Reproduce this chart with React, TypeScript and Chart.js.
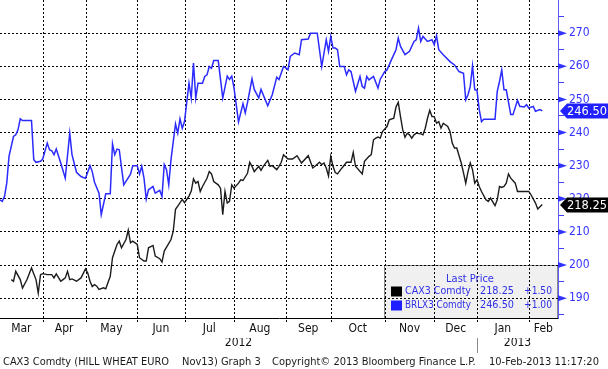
import React, { useEffect, useRef } from 'react';
import { Chart, registerables } from 'chart.js';

Chart.register(...registerables);

const FONT = "'DejaVu Sans Condensed', 'DejaVu Sans', sans-serif";

// x = trading session number (0 = first session shown, early March 2012)
const brlxSessions = [0, 1, 2, 3, 4, 6, 7, 8, 9, 10, 14, 15, 16, 18, 19, 21, 22, 23, 24, 25, 27, 29, 31, 32, 34, 36, 37, 38, 40, 41, 42, 44, 45, 47, 49, 50, 51, 52, 53, 55, 58, 59, 61, 62, 63, 64, 65, 66, 68, 69, 71, 72, 73, 74, 75, 76, 78, 79, 80, 81, 82, 84, 85, 86, 87, 88, 90, 91, 92, 93, 94, 95, 97, 99, 101, 102, 103, 104, 106, 108, 109, 110, 112, 113, 115, 116, 119, 121, 123, 124, 126, 127, 128, 129, 131, 133, 134, 137, 138, 141, 143, 145, 146, 147, 148, 149, 150, 151, 153, 154, 155, 156, 158, 160, 161, 162, 163, 164, 165, 166, 168, 169, 171, 172, 174, 176, 177, 178, 180, 182, 184, 185, 186, 187, 188, 190, 192, 193, 194, 195, 197, 200, 202, 204, 206, 207, 208, 209, 210, 211, 212, 213, 214, 215, 220, 221, 222, 223, 224, 225, 227, 228, 230, 231, 233, 234, 235, 237, 238, 240, 241];
const brlxValues = [219.7, 219.2, 220.7, 224.7, 232.8, 238.8, 239.3, 240.8, 244.1, 243.6, 243.6, 231.8, 231.0, 231.3, 232.0, 236.8, 234.8, 234.5, 233.3, 235.0, 230.8, 226.2, 239.8, 233.3, 228.0, 226.7, 226.4, 226.2, 230.0, 228.2, 225.0, 221.7, 215.2, 221.5, 221.5, 236.6, 233.3, 235.0, 234.8, 224.2, 227.4, 230.0, 230.0, 227.5, 229.8, 226.2, 219.9, 222.7, 223.7, 221.7, 222.5, 220.7, 230.3, 228.8, 224.2, 231.8, 242.6, 239.8, 244.1, 241.3, 243.3, 254.9, 250.4, 261.0, 250.4, 254.9, 254.9, 256.9, 257.4, 259.9, 259.4, 261.7, 261.7, 250.4, 257.0, 256.0, 257.0, 253.5, 243.2, 248.7, 245.9, 249.0, 256.2, 253.0, 250.4, 253.0, 248.1, 251.4, 256.7, 256.0, 259.9, 259.5, 258.9, 263.0, 264.0, 263.5, 268.0, 268.2, 270.0, 270.0, 259.9, 268.0, 264.5, 269.0, 265.5, 265.5, 265.0, 259.9, 259.9, 257.4, 258.9, 258.4, 252.4, 256.9, 253.9, 253.4, 256.9, 255.9, 256.4, 256.9, 253.4, 256.1, 258.4, 258.9, 262.0, 265.0, 268.5, 266.0, 263.5, 264.5, 267.5, 268.0, 271.5, 267.5, 269.0, 267.5, 268.0, 266.5, 269.2, 265.0, 263.5, 261.4, 260.4, 258.4, 257.9, 249.9, 251.4, 253.9, 260.1, 252.9, 252.7, 246.9, 243.3, 244.0, 244.0, 252.4, 255.4, 258.9, 252.9, 252.9, 245.4, 245.4, 249.7, 247.9, 247.7, 248.4, 247.4, 247.9, 246.4, 246.9, 246.5];

const caxSessions = [5, 6, 7, 9, 10, 12, 14, 16, 17, 18, 19, 21, 23, 24, 25, 27, 28, 29, 30, 31, 32, 34, 36, 38, 39, 40, 41, 42, 43, 44, 46, 47, 49, 50, 52, 53, 54, 56, 57, 58, 59, 61, 62, 64, 65, 66, 68, 69, 71, 72, 73, 76, 77, 78, 79, 81, 82, 84, 85, 86, 87, 88, 89, 90, 92, 93, 94, 95, 97, 98, 99, 100, 101, 102, 103, 104, 106, 107, 108, 110, 111, 112, 113, 115, 116, 117, 119, 120, 121, 123, 124, 125, 126, 128, 130, 132, 134, 137, 139, 140, 142, 143, 144, 145, 146, 147, 148, 149, 150, 152, 154, 156, 157, 158, 161, 162, 164, 165, 166, 167, 168, 169, 170, 172, 173, 175, 176, 177, 178, 179, 180, 181, 182, 183, 184, 185, 187, 188, 189, 190, 191, 192, 193, 194, 195, 196, 197, 199, 200, 201, 202, 203, 205, 206, 207, 208, 209, 210, 211, 212, 213, 214, 216, 217, 218, 220, 221, 222, 223, 224, 225, 226, 227, 229, 230, 231, 235, 236, 238, 239, 241];
const caxValues = [195.6, 195.1, 198.1, 195.6, 193.0, 195.6, 199.1, 195.6, 191.5, 197.1, 197.4, 197.1, 197.1, 196.1, 197.3, 195.1, 195.6, 196.1, 198.1, 195.6, 195.8, 195.1, 196.1, 198.8, 197.6, 195.1, 193.5, 194.1, 193.6, 192.6, 193.1, 192.8, 196.6, 202.2, 206.2, 207.2, 205.2, 207.7, 210.5, 206.7, 207.2, 206.2, 202.2, 201.2, 201.2, 205.2, 205.9, 202.7, 201.9, 200.9, 204.2, 207.7, 210.2, 216.8, 217.8, 219.8, 218.8, 220.8, 222.3, 226.0, 224.7, 225.2, 222.2, 223.7, 226.2, 228.2, 227.5, 225.2, 224.2, 223.2, 215.2, 222.2, 218.7, 219.2, 224.2, 223.2, 224.7, 225.7, 225.5, 227.7, 231.0, 229.8, 228.2, 229.8, 228.6, 229.8, 231.6, 229.8, 230.0, 228.8, 229.8, 231.0, 233.3, 232.0, 232.0, 233.0, 230.8, 233.0, 229.3, 229.8, 231.0, 230.3, 230.8, 229.3, 226.9, 232.8, 229.8, 227.9, 227.5, 229.3, 231.0, 231.0, 234.0, 229.8, 227.5, 231.3, 232.8, 233.3, 237.8, 238.3, 238.6, 238.3, 240.3, 241.8, 243.8, 244.3, 247.7, 249.1, 244.8, 240.8, 238.6, 239.8, 239.3, 238.3, 239.3, 239.8, 239.6, 239.3, 241.3, 244.3, 246.7, 244.8, 244.8, 242.8, 243.3, 241.3, 242.8, 241.8, 240.3, 236.8, 235.3, 235.3, 230.8, 227.8, 224.7, 228.2, 230.8, 228.8, 224.7, 225.7, 223.7, 222.2, 219.7, 219.2, 220.2, 217.9, 219.7, 223.7, 223.4, 223.7, 224.7, 227.5, 226.2, 224.7, 222.2, 222.2, 222.2, 221.2, 218.7, 216.9, 218.25];

const seriesNames = ['CAX3 Comdty', 'BRLX3 Comdty'];
const seriesChanges = ['+1.50', '+1.00'];
const seriesColors = ['#1c1c1c', '#2b2bff'];
const tagColors = ['#000000', '#1f1fff'];

const sessionMin = 0;
const sessionMax = 248;
const monthStarts = [19, 38, 61, 82, 104, 127, 147, 171, 193, 212, 235];
const monthLabels = ['Mar', 'Apr', 'May', 'Jun', 'Jul', 'Aug', 'Sep', 'Oct', 'Nov', 'Dec', 'Jan', 'Feb'];
const yearBreak = 212;
const yearLabels = ['2012', '2013'];

const priceMin = 184;
const priceMax = 280;
const majorPriceTicks = [190, 200, 210, 220, 230, 240, 250, 260, 270];
const minorPriceTicks = [185, 195, 205, 215, 225, 235, 245, 255, 265, 275];

const legendTitle = 'Last Price';
const footerParts = [
  'CAX3 Comdty (HILL WHEAT EURO',
  'Nov13) Graph 3',
  'Copyright\u00A9 2013 Bloomberg Finance L.P.',
  '10-Feb-2013 11:17:20',
];

const bounds = [sessionMin, ...monthStarts, sessionMax];
const monthMids = monthLabels.map((_, i) => (bounds[i] + bounds[i + 1]) / 2);
const yearTicks = [(sessionMin + yearBreak) / 2, yearBreak, (yearBreak + sessionMax) / 2];
const yearTickLabels = [yearLabels[0], '', yearLabels[1]];
const allPriceTicks = [...minorPriceTicks, ...majorPriceTicks].sort((a, b) => a - b);

const lastOf = (a: number[]) => a[a.length - 1];
const lastPrices = [lastOf(caxValues), lastOf(brlxValues)];

const zeroPad = (s: any) => {
  s.paddingTop = 0;
  s.paddingBottom = 0;
  s.paddingLeft = 0;
  s.paddingRight = 0;
};

const decorPlugin = {
  id: 'decor',
  beforeDraw(chart: any) {
    const { ctx, chartArea } = chart;
    ctx.save();
    ctx.fillStyle = '#ffffff';
    ctx.fillRect(0, 0, chart.width, chart.height);
    const bw = 174, bh = 53;
    const bx = chartArea.right - bw, by = chartArea.bottom - bh;
    ctx.fillStyle = '#f0f0f0';
    ctx.fillRect(bx, by, bw, bh);
    ctx.strokeStyle = '#8a8a8a';
    ctx.lineWidth = 1;
    ctx.strokeRect(bx + 0.5, by + 0.5, bw - 1, bh);
    ctx.restore();
  },
  beforeDatasetsDraw(chart: any) {
    // dotted vertical month grid lines, placed by the x scale
    const { ctx, chartArea } = chart;
    const xs = chart.scales.x;
    ctx.save();
    ctx.strokeStyle = '#000';
    ctx.lineWidth = 1;
    ctx.setLineDash([2, 2]);
    xs.ticks.forEach((t: any) => {
      const px = Math.round(xs.getPixelForValue(t.value)) + 0.5;
      ctx.beginPath();
      ctx.moveTo(px, chartArea.top);
      ctx.lineTo(px, chartArea.bottom + 4);
      ctx.stroke();
    });
    ctx.restore();
  },
  afterDraw(chart: any) {
    const { ctx, chartArea } = chart;
    const yScale = chart.scales.y;
    ctx.save();
    // legend contents
    const bw = 174, bh = 53;
    const bx = chartArea.right - bw, by = chartArea.bottom - bh;
    ctx.font = `11px ${FONT}`;
    ctx.textBaseline = 'middle';
    ctx.fillStyle = '#3030e8';
    ctx.textAlign = 'center';
    ctx.fillText(legendTitle, bx + 86, by + 14);
    seriesNames.forEach((name, i) => {
      const ry = by + 26.5 + i * 14;
      ctx.fillStyle = tagColors[i];
      ctx.fillRect(bx + 7, ry - 5, 11, 10);
      ctx.fillStyle = '#3030e8';
      ctx.textAlign = 'left';
      ctx.fillText(name, bx + 21, ry, 66);
      ctx.textAlign = 'right';
      ctx.fillText(lastPrices[i].toFixed(2), bx + 130, ry, 34);
      ctx.fillText(seriesChanges[i], bx + 168, ry, 28);
    });
    // arrow ticks on right axis
    ctx.fillStyle = '#3333ff';
    majorPriceTicks.forEach((v) => {
      const y = yScale.getPixelForValue(v);
      ctx.beginPath();
      ctx.moveTo(chartArea.right, y - 3);
      ctx.lineTo(chartArea.right + 9, y);
      ctx.lineTo(chartArea.right, y + 3);
      ctx.closePath();
      ctx.fill();
    });
    // last price tags
    lastPrices.forEach((p, i) => {
      const y = Math.round(yScale.getPixelForValue(p));
      const x0 = chartArea.right + 2;
      ctx.fillStyle = tagColors[i];
      ctx.beginPath();
      ctx.moveTo(x0, y);
      ctx.lineTo(x0 + 7, y - 7.5);
      ctx.lineTo(chart.width, y - 7.5);
      ctx.lineTo(chart.width, y + 7.5);
      ctx.lineTo(x0 + 7, y + 7.5);
      ctx.closePath();
      ctx.fill();
      ctx.fillStyle = '#ffffff';
      ctx.font = `13px ${FONT}`;
      ctx.textAlign = 'center';
      ctx.textBaseline = 'middle';
      ctx.fillText(p.toFixed(2), 587, y + 1, 40);
    });
    // footer
    ctx.font = `11px ${FONT}`;
    ctx.fillStyle = '#1a1a1a';
    ctx.textAlign = 'left';
    ctx.textBaseline = 'alphabetic';
    const fx = [3, 182, 272, 489];
    const fw = [166, 80, 207, 117];
    footerParts.forEach((t, i) => ctx.fillText(t, fx[i], chart.height - 4, fw[i]));
    ctx.restore();
  },
};

export default function App() {
  const ref = useRef<HTMLCanvasElement>(null);
  useEffect(() => {
    document.body.style.margin = '0';
    const canvas = ref.current;
    if (!canvas) return;
    const chart = new Chart(canvas, {
      type: 'line',
      data: {
        datasets: [
          {
            label: seriesNames[0],
            data: caxSessions.map((s, i) => ({ x: s, y: caxValues[i] })),
            borderColor: seriesColors[0],
            borderWidth: 1.4,
            pointRadius: 0,
            tension: 0,
            xAxisID: 'x',
            yAxisID: 'y',
          },
          {
            label: seriesNames[1],
            data: brlxSessions.map((s, i) => ({ x: s, y: brlxValues[i] })),
            borderColor: seriesColors[1],
            borderWidth: 1.5,
            pointRadius: 0,
            tension: 0,
            xAxisID: 'x',
            yAxisID: 'y',
          },
        ],
      },
      options: {
        responsive: false,
        animation: false,
        layout: { padding: { left: 0, right: 0, top: 0, bottom: 12 } },
        plugins: { legend: { display: false }, tooltip: { enabled: false } },
        scales: {
          x: {
            type: 'linear',
            position: 'bottom',
            weight: 0,
            min: sessionMin,
            max: sessionMax,
            afterBuildTicks: (s: any) => { s.ticks = monthStarts.map((v) => ({ value: v })); },
            afterFit: (s: any) => { s.height = 4; zeroPad(s); },
            ticks: { display: false },
            grid: { display: true, drawOnChartArea: false, drawTicks: false },
            border: { display: true, color: '#000', width: 1 },
          },
          xm: {
            type: 'linear',
            position: 'bottom',
            weight: 1,
            min: sessionMin,
            max: sessionMax,
            afterBuildTicks: (s: any) => { s.ticks = monthMids.map((v) => ({ value: v })); },
            afterFit: (s: any) => { s.height = 16; zeroPad(s); },
            ticks: {
              callback: (_v: any, i: number) => monthLabels[i],
              color: '#111',
              font: { family: FONT, size: 12 },
              padding: 0,
              maxRotation: 0,
              autoSkip: false,
            },
            grid: { display: false, drawTicks: false },
            border: { display: false },
          },
          xy: {
            type: 'linear',
            position: 'bottom',
            weight: 2,
            min: sessionMin,
            max: sessionMax,
            afterBuildTicks: (s: any) => { s.ticks = yearTicks.map((v) => ({ value: v })); },
            afterFit: (s: any) => { s.height = 19; zeroPad(s); },
            ticks: {
              callback: (_v: any, i: number) => yearTickLabels[i],
              color: '#111',
              font: { family: FONT, size: 12 },
              padding: -17,
              maxRotation: 0,
              autoSkip: false,
            },
            grid: {
              display: true,
              drawOnChartArea: false,
              drawTicks: true,
              tickLength: 15,
              lineWidth: 1,
              color: (c: any) => (c.tick && c.tick.value === yearBreak ? '#8a8a8a' : 'rgba(0,0,0,0)'),
              tickColor: (c: any) => (c.tick && c.tick.value === yearBreak ? '#8a8a8a' : 'rgba(0,0,0,0)'),
            },
            border: { display: false },
          },
          y: {
            type: 'linear',
            position: 'right',
            min: priceMin,
            max: priceMax,
            afterBuildTicks: (s: any) => { s.ticks = allPriceTicks.map((v) => ({ value: v })); },
            afterFit: (s: any) => { s.width = 50; zeroPad(s); },
            ticks: {
              callback: (v: any) => (majorPriceTicks.includes(v) ? String(v) : ''),
              color: '#3333ff',
              font: { family: FONT, size: 12 },
              padding: 5,
              autoSkip: false,
            },
            grid: {
              color: (c: any) => (c.tick && majorPriceTicks.includes(c.tick.value) ? '#000' : 'rgba(0,0,0,0)'),
              tickColor: '#4040ff',
              tickLength: 6,
              lineWidth: 1,
            },
            border: { display: true, color: '#5c5cff', width: 1, dash: [2, 2] },
          },
        },
      },
      plugins: [decorPlugin],
    } as any);
    return () => chart.destroy();
  }, []);
  return (
    <div style={{ position: 'fixed', left: 0, top: 0, width: 608, height: 369, background: '#fff' }}>
      <canvas ref={ref} width={608} height={369} style={{ display: 'block', width: 608, height: 369 }} />
    </div>
  );
}
